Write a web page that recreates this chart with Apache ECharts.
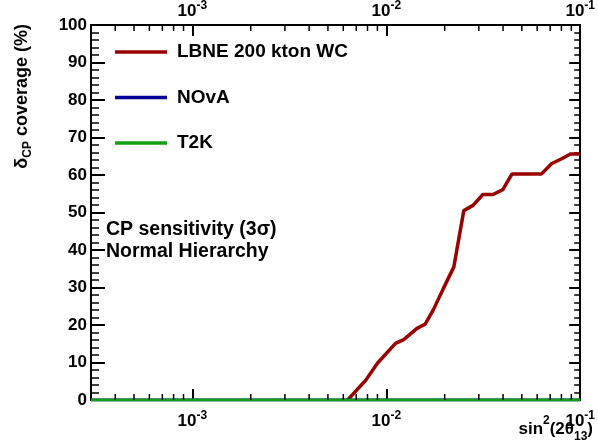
<!DOCTYPE html>
<html><head><meta charset="utf-8">
<script src="https://cdn.jsdelivr.net/npm/echarts@6/dist/echarts.min.js"></script>
<style>html,body{margin:0;padding:0;background:#fff}#c{width:598px;height:446px}</style>
</head><body><div id="c"></div>
<script>
// ---- data ----
const lbneX = [0.00632, 0.00784, 0.0090, 0.01115, 0.0123, 0.01439, 0.01585, 0.0175, 0.01968, 0.0223, 0.0251, 0.0280, 0.0315, 0.0355, 0.0399, 0.0445, 0.0632, 0.0711, 0.0807, 0.0890, 0.100];
const lbneY = [0, 5.3, 9.8, 15.1, 16.1, 19.1, 20.2, 24.1, 29.7, 35.5, 50.5, 51.9, 54.8, 54.8, 56.1, 60.3, 60.3, 63.0, 64.4, 65.6, 65.6];
const novaX = [0.0003, 0.1];
const novaY = [0, 0];
const t2kX = [0.0003, 0.1];
const t2kY = [0, 0];
const seriesNames = ['LBNE 200 kton WC', 'NOvA', 'T2K'];
const xMinorTicks = [4e-4, 5e-4, 6e-4, 7e-4, 8e-4, 9e-4,
  2e-3, 3e-3, 4e-3, 5e-3, 6e-3, 7e-3, 8e-3, 9e-3,
  2e-2, 3e-2, 4e-2, 5e-2, 6e-2, 7e-2, 8e-2, 9e-2];
const yTitle = '{g|δ}{s|CP}{t| coverage (%)}';
const xTitle = '{t|sin}{p|2}{t|(2θ}{s|13}{t|)}';
const noteLines = ['CP sensitivity (3σ)', 'Normal Hierarchy'];

const FF = '"Liberation Sans", Arial, Helvetica, sans-serif';
const RED = '#990000', BLUE = '#000099', GREEN = '#139f13';

const pairs = (xs, ys) => xs.map((x, i) => [x, ys[i]]);
const expLabel = v => '{b|10}{s|' + Math.round(Math.log10(v)) + '}';
const labelRich = {
  b: {fontSize: 17, fontWeight: 'bold', fontFamily: FF, color: '#000', lineHeight: 22},
  s: {fontSize: 12, fontWeight: 'bold', fontFamily: FF, color: '#000', lineHeight: 12, verticalAlign: 'top'}
};

function xAxisCfg(pos, margin) {
  return {
    type: 'log', logBase: 10, min: 3e-4, max: 0.1, position: pos, gridIndex: 0,
    axisLine: {show: true, onZero: false, lineStyle: {color: '#000', width: 2}},
    axisTick: {show: true, inside: true, length: 11, lineStyle: {color: '#000', width: 2}},
    minorTick: {show: false},
    splitLine: {show: false},
    axisLabel: {show: true, formatter: expLabel, rich: labelRich, margin: margin, showMinLabel: false, showMaxLabel: true}
  };
}
function yAxisCfg(pos, showLabel, major, minor) {
  return {
    type: 'value', min: 0, max: 100, interval: 10, position: pos, gridIndex: 0,
    axisLine: {show: true, onZero: false, lineStyle: {color: '#000', width: 2}},
    axisTick: {show: true, inside: true, length: major, lineStyle: {color: '#000', width: 2}},
    minorTick: {show: true, splitNumber: 5, length: minor, lineStyle: {color: '#000', width: 1.5}},
    splitLine: {show: false},
    axisLabel: {show: showLabel, fontSize: 17, fontWeight: 'bold', fontFamily: FF, color: '#000', margin: 4}
  };
}

const chart = echarts.init(document.getElementById('c'), null, {renderer: 'canvas'});
chart.setOption({
  animation: false,
  backgroundColor: '#fff',
  grid: {left: 91, right: 13, top: 24, bottom: 46, containLabel: false},
  xAxis: [xAxisCfg('bottom', 10), xAxisCfg('top', 3)],
  yAxis: [yAxisCfg('left', true, 14, 8), yAxisCfg('right', false, 11, 6)],
  legend: {
    data: seriesNames, orient: 'vertical', left: 115, top: 42, padding: 0,
    icon: 'rect', itemWidth: 52, itemHeight: 3.5, itemGap: 25.5,
    textStyle: {fontSize: 19, fontWeight: 'bold', fontFamily: FF, color: '#000', lineHeight: 20, padding: [0, 0, 0, 5]},
    selectedMode: false
  },
  graphic: [
    {type: 'text', x: 22, y: 24, rotation: Math.PI / 2, silent: true,
      style: {text: yTitle, align: 'right', verticalAlign: 'middle', fill: '#000',
        rich: {
          g: {fontSize: 18, fontWeight: 'bold', fontFamily: FF, fill: '#000', lineHeight: 24},
          s: {fontSize: 12, fontWeight: 'bold', fontFamily: FF, fill: '#000', lineHeight: 10, verticalAlign: 'bottom'},
          t: {fontSize: 18, fontWeight: 'bold', fontFamily: FF, fill: '#000', lineHeight: 24}
        }}},
    {type: 'text', x: 593, y: 429, silent: true,
      style: {text: xTitle, align: 'right', verticalAlign: 'middle', fill: '#000',
        rich: {
          t: {fontSize: 17, fontWeight: 'bold', fontFamily: FF, fill: '#000', lineHeight: 28},
          p: {fontSize: 12, fontWeight: 'bold', fontFamily: FF, fill: '#000', lineHeight: 16, verticalAlign: 'top'},
          s: {fontSize: 12, fontWeight: 'bold', fontFamily: FF, fill: '#000', lineHeight: 10, verticalAlign: 'bottom'}
        }}},
    {type: 'text', x: 106, y: 229.5, silent: true,
      style: {text: noteLines[0], align: 'left', verticalAlign: 'middle', fill: '#000', font: 'bold 19.5px ' + FF}},
    {type: 'text', x: 106, y: 251.5, silent: true,
      style: {text: noteLines[1], align: 'left', verticalAlign: 'middle', fill: '#000', font: 'bold 19.5px ' + FF}}
  ],
  series: [
    {name: seriesNames[0], type: 'line', data: pairs(lbneX, lbneY), symbol: 'none', z: 3,
      lineStyle: {color: RED, width: 3.5}, itemStyle: {color: RED}},
    {name: seriesNames[1], type: 'line', data: pairs(novaX, novaY), symbol: 'none', z: 3,
      lineStyle: {color: BLUE, width: 3}, itemStyle: {color: BLUE}},
    {name: seriesNames[2], type: 'line', data: pairs(t2kX, t2kY), symbol: 'none', z: 3,
      lineStyle: {color: GREEN, width: 3}, itemStyle: {color: GREEN}},
    {type: 'custom', silent: true, z: 4, clip: false,
      data: xMinorTicks.map(v => [v, 0]),
      renderItem: (params, api) => {
        const v = api.value(0);
        const b = api.coord([v, 0]);
        const t = api.coord([v, 100]);
        return {type: 'group', children: [
          {type: 'line', shape: {x1: b[0], y1: b[1], x2: b[0], y2: b[1] - 6}, style: {stroke: '#000', lineWidth: 1.5}},
          {type: 'line', shape: {x1: t[0], y1: t[1], x2: t[0], y2: t[1] + 6}, style: {stroke: '#000', lineWidth: 1.5}}
        ]};
      }}
  ]
});
</script></body></html>
